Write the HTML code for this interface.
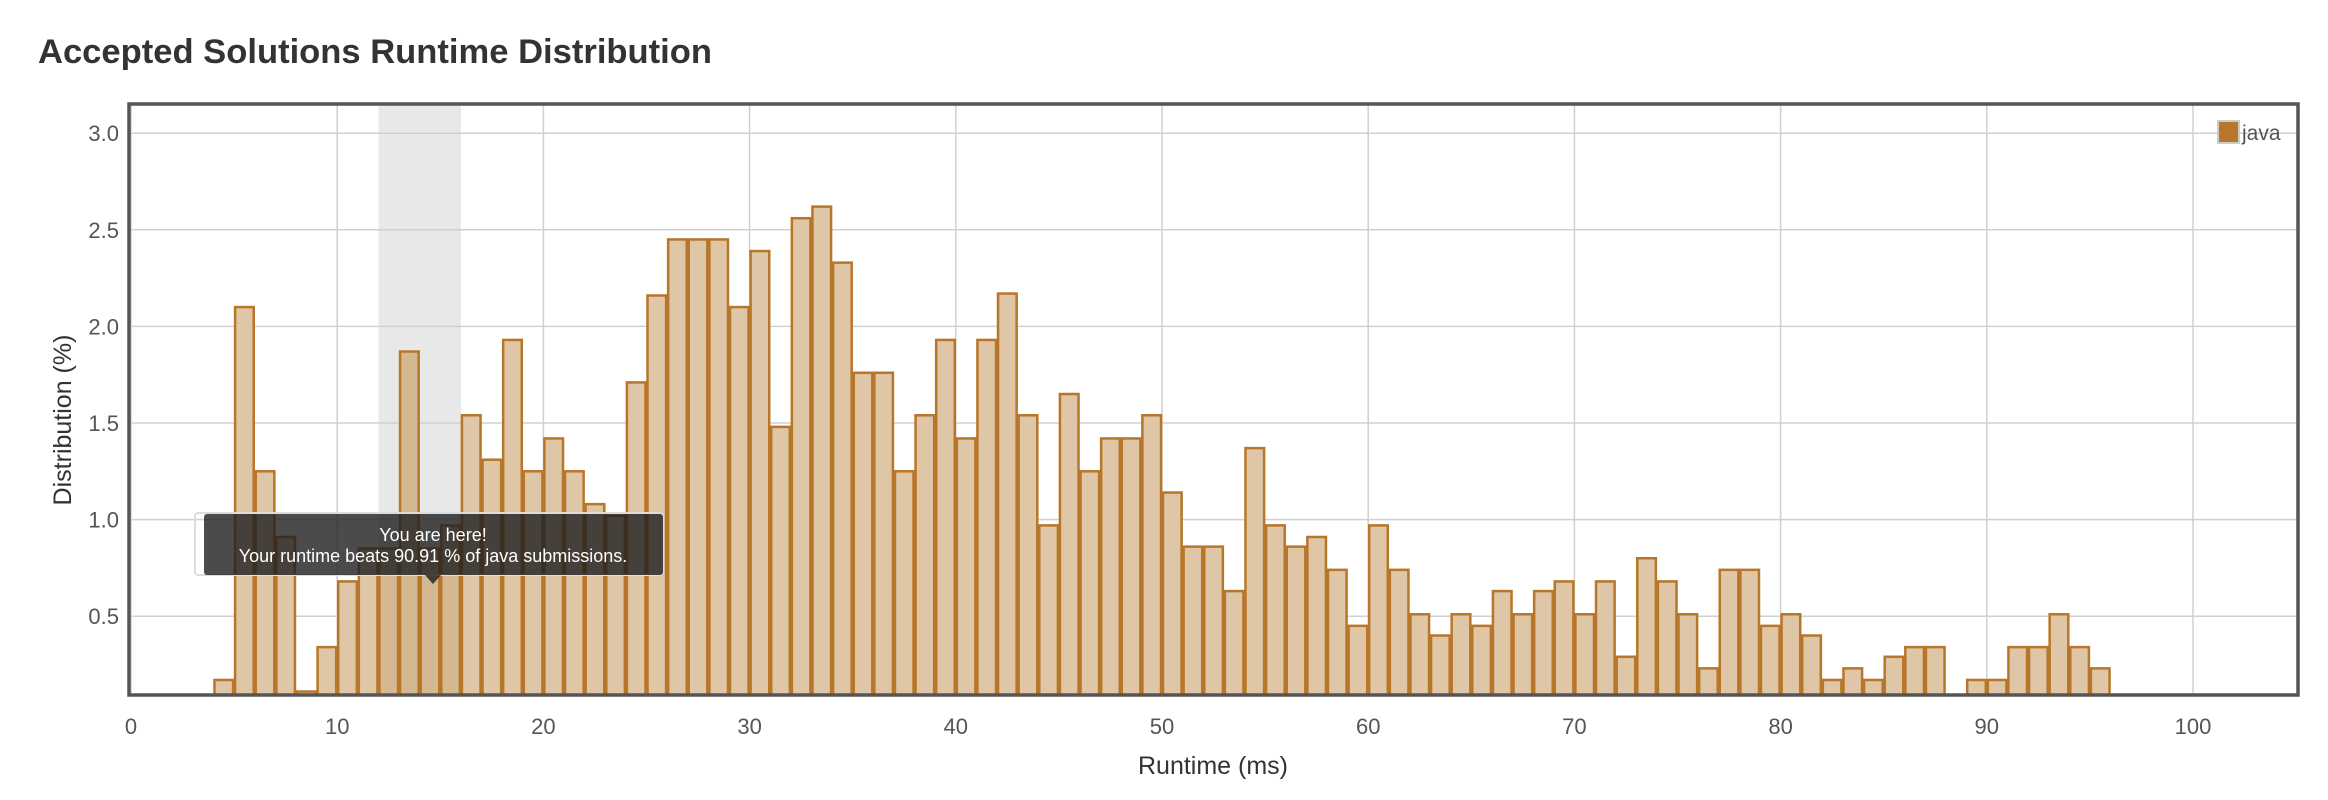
<!DOCTYPE html>
<html><head><meta charset="utf-8"><style>
html,body{margin:0;padding:0;background:#fff;width:2328px;height:800px;overflow:hidden}
svg text{font-family:"Liberation Sans",Arial,sans-serif}
</style></head><body>
<svg id="chart" width="2328" height="800" xmlns="http://www.w3.org/2000/svg">
<text x="38" y="63" font-size="34" font-weight="bold" fill="#333" textLength="674" lengthAdjust="spacingAndGlyphs">Accepted Solutions Runtime Distribution</text>
<g id="grid"></g>
<g id="bars"></g>
<g id="axes"></g>
<g id="legend">
<rect x="2218" y="121" width="21" height="22" fill="#b87628" stroke="#ccc" stroke-width="2"/>
<text x="2242" y="140" font-size="21" fill="#555">java</text>
</g>
<g id="tooltip">
<rect x="195" y="513" width="468" height="62" rx="3" fill="none" stroke="#ddd" stroke-width="2"/>
<rect x="204" y="514" width="459" height="61" rx="3" fill="rgba(30,30,30,0.8)"/>
<polygon points="425,575 441,575 433,584" fill="rgba(30,30,30,0.8)"/>
<text x="433" y="541" font-size="18" fill="#fff" text-anchor="middle">You are here!</text>
<text x="433" y="562" font-size="18" fill="#fff" text-anchor="middle">Your runtime beats 90.91 % of java submissions.</text>
</g>
</svg>
<script>
const binStarts = [4,5,6,7,8,9,10,11,12,13,14,15,16,17,18,19,20,21,22,23,24,25,26,27,28,29,30,31,32,33,34,35,36,37,38,39,40,41,42,43,44,45,46,47,48,49,50,51,52,53,54,55,56,57,58,59,60,61,62,63,64,65,66,67,68,69,70,71,72,73,74,75,76,77,78,79,80,81,82,83,84,85,86,87,89,90,91,92,93,94,95];
const javaValues = [0.17,2.10,1.25,0.91,0.11,0.34,0.68,0.85,0.85,1.87,0.85,0.97,1.54,1.31,1.93,1.25,1.42,1.25,1.08,1.02,1.71,2.16,2.45,2.45,2.45,2.10,2.39,1.48,2.56,2.62,2.33,1.76,1.76,1.25,1.54,1.93,1.42,1.93,2.17,1.54,0.97,1.65,1.25,1.42,1.42,1.54,1.14,0.86,0.86,0.63,1.37,0.97,0.86,0.91,0.74,0.45,0.97,0.74,0.51,0.40,0.51,0.45,0.63,0.51,0.63,0.68,0.51,0.68,0.29,0.80,0.68,0.51,0.23,0.74,0.74,0.45,0.51,0.40,0.17,0.23,0.17,0.29,0.34,0.34,0.17,0.17,0.34,0.34,0.51,0.34,0.23];
const xTicks = [0,10,20,30,40,50,60,70,80,90,100];
const yTicks = [0.5,1.0,1.5,2.0,2.5,3.0];
const yTickLabels = ["0.5","1.0","1.5","2.0","2.5","3.0"];
const highlightRange = [12,16];

const L=129,R=2298,T=104,B=695;
const X0=131,XS=20.62;
const xs=v=>X0+v*XS;
const Y3=133.2,YS=193.2;
const ys=v=>Y3+(3-v)*YS;
const NS="http://www.w3.org/2000/svg";
function mk(tag,attrs,parent,text){const e=document.createElementNS(NS,tag);for(const k in attrs)e.setAttribute(k,attrs[k]);if(text!==undefined)e.textContent=text;parent.appendChild(e);return e;}
const grid=document.getElementById('grid'),bars=document.getElementById('bars'),axes=document.getElementById('axes');

const hl=mk('rect',{x:xs(highlightRange[0]),y:T,width:xs(highlightRange[1])-xs(highlightRange[0]),height:B-T,fill:'#e8e8e8'},grid);


xTicks.forEach(t=>{
  const g=mk('line',{x1:xs(t),x2:xs(t),y1:T,y2:B,stroke:'#d0d0d0','stroke-width':1.5},grid);
  
  
  const lb=mk('text',{x:xs(t),y:734,'font-size':22,fill:'#555','text-anchor':'middle'},axes,String(t));
  
  
});
yTicks.forEach((t,i)=>{
  const g=mk('line',{x1:L,x2:R,y1:ys(t),y2:ys(t),stroke:'#d0d0d0','stroke-width':1.5},grid);
  
  
  const lb=mk('text',{x:119,y:ys(t)+8,'font-size':22,fill:'#555','text-anchor':'end'},axes,yTickLabels[i]);
  
  
});
binStarts.forEach((s,i)=>{
  const v=javaValues[i];
  const inHl=s>=highlightRange[0]&&s<highlightRange[1];
  const b=mk('rect',{x:xs(s)+1,y:ys(v),width:XS-2,height:B-ys(v),fill:inHl?'#d3b892':'#dfc6a6',stroke:'#b87628','stroke-width':2.5},bars);
  
  
});
const frame=mk('rect',{x:L,y:T,width:R-L,height:B-T,fill:'none',stroke:'#555','stroke-width':3.5},axes);


const xt=mk('text',{x:1213,y:774,'font-size':25,fill:'#333','text-anchor':'middle'},axes,'Runtime (ms)');


const yt=mk('text',{x:0,y:0,'font-size':25,fill:'#333','text-anchor':'middle',transform:'translate(71,420) rotate(-90)'},axes,'Distribution (%)');


</script>
</body></html>
